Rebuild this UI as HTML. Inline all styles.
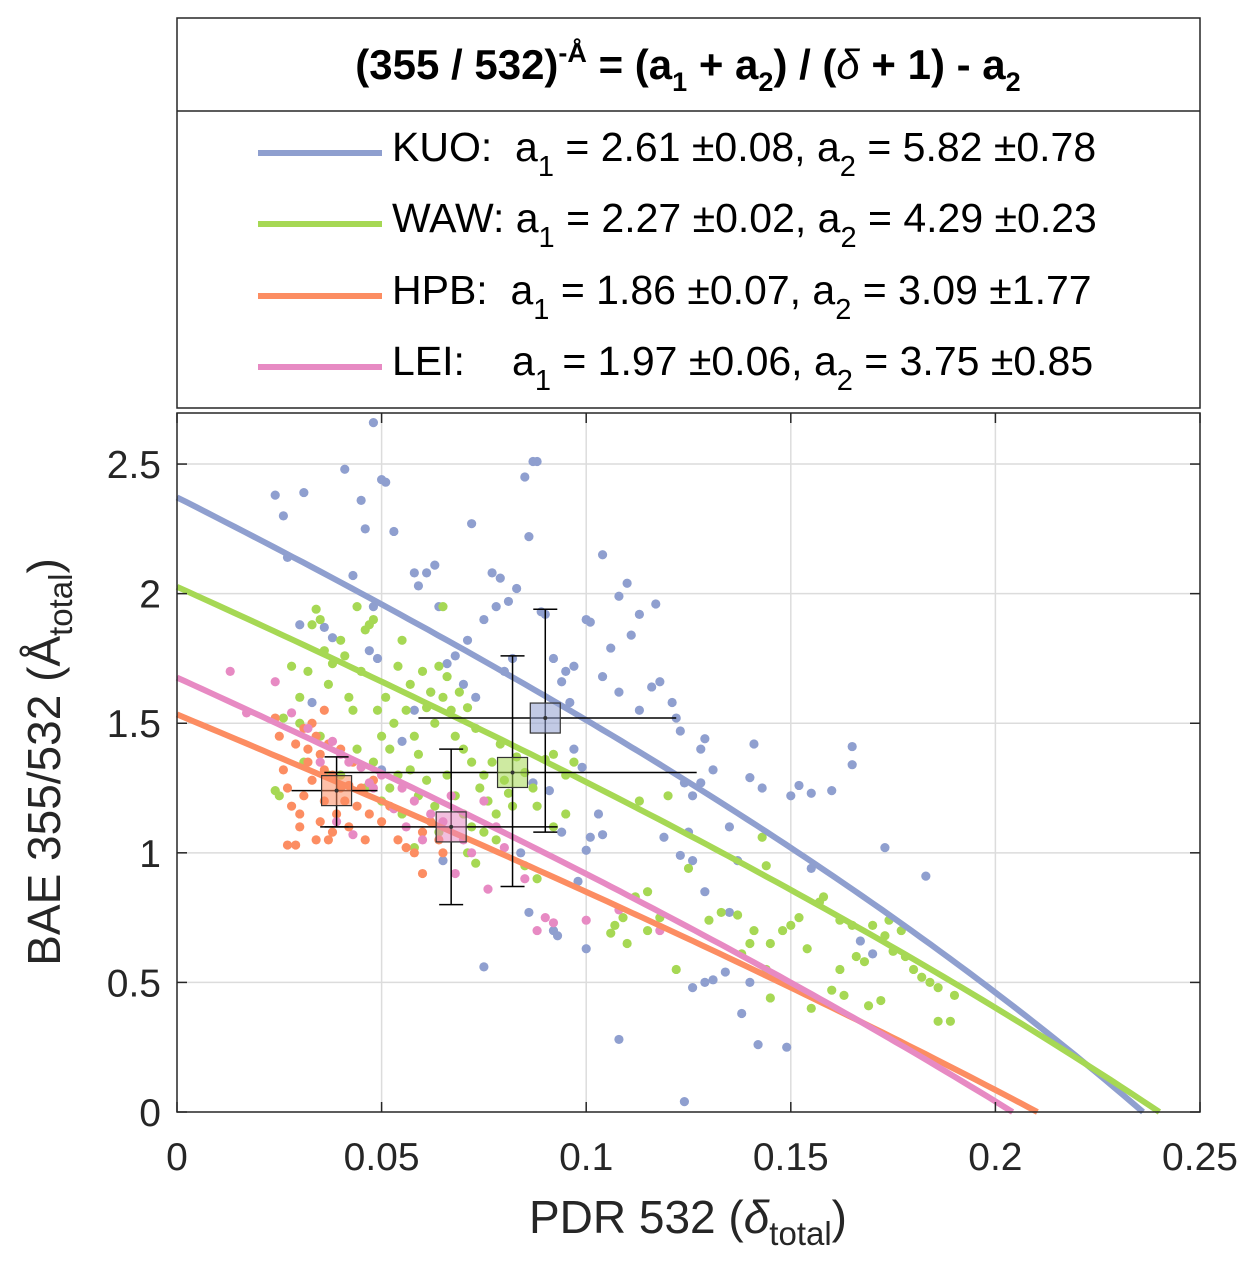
<!DOCTYPE html>
<html><head><meta charset="utf-8"><style>
body{margin:0;background:#fff;}
svg{display:block;font-family:"Liberation Sans",Arial,sans-serif;}
</style></head><body>
<svg id="chart" width="1258" height="1274" viewBox="0 0 1258 1274">
<g id="grid"></g>
<g id="marks"></g>
<rect x="177" y="413" width="1023" height="699" fill="none" stroke="#262626" stroke-width="1.5"/>
<g id="ticks" font-size="39" fill="#262626"></g>
<text x="688" y="1233" font-size="46" text-anchor="middle" fill="#262626">PDR 532 (<tspan font-style="italic">δ</tspan><tspan font-size="33" dy="12">total</tspan><tspan dy="-12">)</tspan></text>
<text transform="translate(60,762) rotate(-90)" font-size="46" text-anchor="middle" fill="#262626">BAE 355/532 (Å<tspan font-size="33" dy="12">total</tspan><tspan dy="-12">)</tspan></text>
<g>
<rect x="177" y="18" width="1023" height="390" fill="#fff" stroke="#262626" stroke-width="1.5"/>
<line x1="177" y1="111" x2="1200" y2="111" stroke="#262626" stroke-width="1.5"/>
<text x="688" y="79" font-size="42" font-weight="bold" text-anchor="middle" fill="#000">(355 / 532)<tspan font-size="27" dy="-17">-Å</tspan><tspan dy="17"> = (a</tspan><tspan font-size="27" dy="12">1</tspan><tspan dy="-12"> + a</tspan><tspan font-size="27" dy="12">2</tspan><tspan dy="-12">) / (</tspan><tspan font-style="italic" font-weight="normal">δ</tspan><tspan> + 1) - a</tspan><tspan font-size="27" dy="12">2</tspan></text>
<g><line x1="258" y1="153" x2="382" y2="153" stroke="#8f9fcf" stroke-width="6"/><text x="392" y="161" font-size="41">KUO:&#160;&#160;a<tspan font-size="29" dy="15">1</tspan><tspan dy="-15"> = 2.61 ±0.08, a</tspan><tspan font-size="29" dy="15">2</tspan><tspan dy="-15"> = 5.82 ±0.78</tspan></text></g>
<g><line x1="258" y1="224" x2="382" y2="224" stroke="#a6d854" stroke-width="6"/><text x="392" y="232" font-size="41">WAW: a<tspan font-size="29" dy="15">1</tspan><tspan dy="-15"> = 2.27 ±0.02, a</tspan><tspan font-size="29" dy="15">2</tspan><tspan dy="-15"> = 4.29 ±0.23</tspan></text></g>
<g><line x1="258" y1="296" x2="382" y2="296" stroke="#fc8d62" stroke-width="6"/><text x="392" y="304" font-size="41">HPB:&#160;&#160;a<tspan font-size="29" dy="15">1</tspan><tspan dy="-15"> = 1.86 ±0.07, a</tspan><tspan font-size="29" dy="15">2</tspan><tspan dy="-15"> = 3.09 ±1.77</tspan></text></g>
<g><line x1="258" y1="367" x2="382" y2="367" stroke="#e78ac3" stroke-width="6"/><text x="392" y="375" font-size="41">LEI:<tspan x="512">a</tspan><tspan font-size="29" dy="15">1</tspan><tspan dy="-15"> = 1.97 ±0.06, a</tspan><tspan font-size="29" dy="15">2</tspan><tspan dy="-15"> = 3.75 ±0.85</tspan></text></g>
</g>
</svg>
<script>
const xTicks=[0,0.05,0.1,0.15,0.2,0.25];
const xTickLabels=["0","0.05","0.1","0.15","0.2","0.25"];
const yTicks=[0,0.5,1,1.5,2,2.5];
const yTickLabels=["0","0.5","1","1.5","2","2.5"];
const seriesNames=["KUO","WAW","HPB","LEI"];
const seriesColors=["#8f9fcf","#a6d854","#fc8d62","#e78ac3"];
const fitA1=[2.61,2.27,1.86,1.97];
const fitA2=[5.82,4.29,3.09,3.75];
const kuoPts=[[0.024,2.38],[0.026,2.30],[0.031,2.39],[0.027,2.14],[0.041,2.48],[0.048,2.66],[0.045,2.36],[0.046,2.25],[0.043,2.07],[0.050,2.44],[0.051,2.43],[0.053,2.24],[0.048,1.95],[0.047,1.78],[0.049,1.75],[0.058,2.08],[0.061,2.08],[0.063,2.11],[0.059,2.03],[0.064,1.95],[0.072,2.27],[0.077,2.08],[0.079,2.06],[0.085,2.45],[0.087,2.51],[0.088,2.51],[0.086,2.22],[0.083,2.02],[0.081,1.97],[0.078,1.95],[0.075,1.90],[0.071,1.82],[0.068,1.76],[0.066,1.73],[0.070,1.65],[0.073,1.60],[0.080,1.70],[0.082,1.75],[0.089,1.93],[0.090,1.92],[0.095,1.70],[0.097,1.72],[0.100,1.90],[0.101,1.89],[0.104,2.15],[0.108,1.99],[0.110,2.04],[0.113,1.92],[0.117,1.96],[0.111,1.84],[0.106,1.79],[0.104,1.68],[0.108,1.62],[0.118,1.66],[0.116,1.64],[0.121,1.58],[0.122,1.52],[0.123,1.47],[0.113,1.55],[0.092,1.75],[0.094,1.66],[0.096,1.58],[0.097,1.40],[0.099,1.33],[0.103,1.15],[0.101,1.06],[0.104,1.07],[0.100,1.01],[0.098,0.89],[0.100,0.63],[0.086,0.77],[0.092,0.70],[0.093,0.68],[0.075,0.56],[0.108,0.28],[0.124,0.04],[0.126,0.48],[0.129,0.50],[0.131,0.51],[0.134,0.54],[0.138,0.38],[0.140,0.50],[0.142,0.26],[0.149,0.25],[0.135,0.77],[0.137,0.97],[0.140,1.29],[0.143,1.25],[0.141,1.42],[0.128,1.40],[0.129,1.44],[0.128,1.27],[0.124,1.27],[0.126,1.22],[0.125,1.08],[0.126,0.97],[0.129,0.85],[0.131,1.32],[0.135,1.10],[0.150,1.22],[0.152,1.26],[0.155,1.23],[0.160,1.24],[0.165,1.34],[0.165,1.41],[0.155,0.94],[0.167,0.66],[0.170,0.61],[0.173,1.02],[0.183,0.91],[0.087,1.27],[0.091,1.24],[0.094,1.08],[0.084,1.00],[0.065,0.97],[0.055,1.43],[0.050,1.32],[0.058,1.55],[0.062,1.62],[0.036,1.87],[0.038,1.83],[0.030,1.88],[0.033,1.58],[0.119,1.06],[0.123,0.99]];
const wawPts=[[0.028,1.72],[0.030,1.60],[0.032,1.70],[0.033,1.88],[0.034,1.94],[0.035,1.90],[0.036,1.78],[0.037,1.65],[0.038,1.73],[0.040,1.82],[0.041,1.76],[0.042,1.60],[0.043,1.55],[0.044,1.95],[0.045,1.70],[0.046,1.86],[0.047,1.88],[0.048,1.90],[0.049,1.55],[0.050,1.45],[0.051,1.60],[0.052,1.40],[0.053,1.50],[0.054,1.72],[0.055,1.82],[0.056,1.55],[0.057,1.65],[0.058,1.45],[0.059,1.38],[0.060,1.70],[0.061,1.56],[0.062,1.62],[0.063,1.50],[0.064,1.72],[0.065,1.60],[0.066,1.68],[0.067,1.55],[0.068,1.45],[0.069,1.62],[0.070,1.40],[0.071,1.56],[0.072,1.35],[0.073,1.48],[0.074,1.25],[0.075,1.30],[0.076,1.20],[0.077,1.35],[0.078,1.15],[0.079,1.42],[0.080,1.28],[0.081,1.23],[0.082,1.18],[0.083,1.37],[0.085,1.31],[0.087,1.25],[0.088,1.18],[0.090,1.36],[0.092,1.38],[0.095,1.30],[0.097,1.35],[0.065,1.95],[0.030,1.50],[0.031,1.35],[0.026,1.52],[0.035,1.45],[0.037,1.30],[0.040,1.30],[0.044,1.40],[0.046,1.25],[0.048,1.35],[0.050,1.20],[0.052,1.25],[0.054,1.30],[0.055,1.15],[0.057,1.32],[0.059,1.22],[0.061,1.28],[0.063,1.18],[0.066,1.30],[0.068,1.22],[0.070,1.15],[0.072,1.10],[0.075,1.08],[0.078,1.05],[0.025,1.22],[0.024,1.24],[0.113,1.20],[0.115,0.85],[0.107,0.72],[0.106,0.69],[0.112,0.83],[0.118,0.75],[0.120,1.22],[0.125,0.94],[0.130,0.74],[0.133,0.77],[0.137,0.76],[0.141,0.70],[0.143,1.06],[0.144,0.95],[0.140,0.65],[0.144,0.55],[0.145,0.44],[0.150,0.72],[0.152,0.75],[0.154,0.63],[0.155,0.40],[0.157,0.81],[0.160,0.47],[0.162,0.55],[0.165,0.72],[0.163,0.45],[0.166,0.60],[0.168,0.58],[0.170,0.72],[0.172,0.43],[0.173,0.68],[0.175,0.62],[0.177,0.70],[0.178,0.60],[0.180,0.55],[0.182,0.52],[0.184,0.50],[0.186,0.35],[0.189,0.35],[0.190,0.45],[0.186,0.48],[0.169,0.41],[0.174,0.74],[0.158,0.83],[0.162,0.74],[0.138,0.61],[0.145,0.65],[0.109,0.75],[0.122,0.55],[0.095,1.15],[0.092,1.10],[0.085,0.95],[0.088,0.90],[0.073,0.96],[0.071,1.00],[0.058,1.02],[0.064,1.08],[0.110,0.65],[0.115,0.70],[0.148,0.70]];
const hpbPts=[[0.024,1.52],[0.025,1.45],[0.026,1.32],[0.027,1.25],[0.028,1.18],[0.027,1.03],[0.029,1.03],[0.030,1.15],[0.030,1.10],[0.031,1.22],[0.032,1.35],[0.033,1.28],[0.033,1.50],[0.034,1.45],[0.035,1.38],[0.035,1.12],[0.036,1.20],[0.036,1.32],[0.037,1.42],[0.038,1.08],[0.038,1.30],[0.039,1.15],[0.040,1.40],[0.040,1.25],[0.041,1.20],[0.042,1.10],[0.043,1.35],[0.044,1.18],[0.045,1.25],[0.046,1.05],[0.047,1.15],[0.048,1.28],[0.050,1.12],[0.052,1.18],[0.054,1.05],[0.056,1.02],[0.058,1.00],[0.060,1.08],[0.062,1.12],[0.065,1.00],[0.034,1.05],[0.037,1.05],[0.031,1.48],[0.029,1.42],[0.032,1.40],[0.060,0.92],[0.064,1.05],[0.042,1.26],[0.036,1.55]];
const leiPts=[[0.013,1.70],[0.017,1.54],[0.024,1.66],[0.028,1.54],[0.032,1.48],[0.035,1.35],[0.038,1.43],[0.040,1.38],[0.042,1.35],[0.045,1.33],[0.050,1.30],[0.055,1.25],[0.058,1.20],[0.062,1.15],[0.065,1.12],[0.067,1.22],[0.068,0.92],[0.070,1.05],[0.072,1.00],[0.076,0.86],[0.080,1.02],[0.085,0.90],[0.088,0.70],[0.090,0.75],[0.092,0.73],[0.100,0.74],[0.108,0.78],[0.118,0.70],[0.047,1.27],[0.053,1.17],[0.060,1.05],[0.075,1.20],[0.078,1.10],[0.043,1.07],[0.048,1.25],[0.039,1.12],[0.056,1.10]];
const meanX=[0.090,0.082,0.039,0.067];
const meanY=[1.52,1.31,1.24,1.10];
const errXLo=[0.059,0.036,0.028,0.035];
const errXHi=[0.122,0.127,0.049,0.093];
const errYLo=[1.08,0.87,1.10,0.80];
const errYHi=[1.94,1.76,1.37,1.40];

const X0=177,X1=1200,Y0=1112,Y1=413,XMAX=0.25,YMAX=2.697;
const sx=v=>X0+v/XMAX*(X1-X0);
const sy=v=>Y0-v/YMAX*(Y0-Y1);
const NS="http://www.w3.org/2000/svg";
function mk(tag,attrs,parent){const e=document.createElementNS(NS,tag);for(const k in attrs)e.setAttribute(k,attrs[k]);parent.appendChild(e);return e;}
const grid=document.getElementById('grid'),marks=document.getElementById('marks'),ticks=document.getElementById('ticks');
xTicks.forEach((t,i)=>{
  const x=sx(t);
  if(i>0&&i<xTicks.length-1){const l=mk('line',{x1:x,x2:x,y1:Y1,y2:Y0,stroke:'#dcdcdc','stroke-width':1.5},grid);
  
  }
  mk('line',{x1:x,x2:x,y1:Y0,y2:Y0-10,stroke:'#262626','stroke-width':1.5},ticks);
  mk('line',{x1:x,x2:x,y1:Y1,y2:Y1+10,stroke:'#262626','stroke-width':1.5},ticks);
  const tx=mk('text',{x:x,y:Y0+58,'text-anchor':'middle'},ticks);tx.textContent=xTickLabels[i];
  
  
});
yTicks.forEach((t,i)=>{
  const y=sy(t);
  if(i>0){const l=mk('line',{x1:X0,x2:X1,y1:y,y2:y,stroke:'#dcdcdc','stroke-width':1.5},grid);
  
  }
  mk('line',{x1:X0,x2:X0+10,y1:y,y2:y,stroke:'#262626','stroke-width':1.5},ticks);
  mk('line',{x1:X1,x2:X1-10,y1:y,y2:y,stroke:'#262626','stroke-width':1.5},ticks);
  const tx=mk('text',{x:X0-16,y:y+14,'text-anchor':'end'},ticks);tx.textContent=yTickLabels[i];
  
  
});
const allPts=[kuoPts,wawPts,hpbPts,leiPts];
allPts.forEach((pts,s)=>{
  pts.forEach(p=>{const c=mk('circle',{cx:sx(p[0]),cy:sy(p[1]),r:4.6,fill:seriesColors[s]},marks);
  
  });
});
const LN=Math.log(355/532);
seriesNames.forEach((n,s)=>{
  const a1=fitA1[s],a2=fitA2[s];const dz=(a1+a2)/(a2+1)-1;let d='';
  for(let k=0;k<=100;k++){const del=dz*k/100;const v=(a1+a2)/(del+1)-a2;const A=Math.log(v)/(-LN);d+=(k?'L':'M')+sx(del).toFixed(1)+','+sy(Math.max(A,0)).toFixed(1);}
  const p=mk('path',{d:d,fill:'none',stroke:seriesColors[s],'stroke-width':6},marks);
  
  
});
seriesNames.forEach((n,s)=>{
  const g=mk('g',{},marks);
  
  
  const cx=sx(meanX[s]),cy=sy(meanY[s]);
  const st={stroke:'#000','stroke-width':1.5};
  mk('line',Object.assign({x1:sx(errXLo[s]),x2:sx(errXHi[s]),y1:cy,y2:cy},st),g);
  mk('line',Object.assign({x1:cx,x2:cx,y1:sy(errYLo[s]),y2:sy(errYHi[s])},st),g);
  mk('line',Object.assign({x1:cx-12,x2:cx+12,y1:sy(errYLo[s]),y2:sy(errYLo[s])},st),g);
  mk('line',Object.assign({x1:cx-12,x2:cx+12,y1:sy(errYHi[s]),y2:sy(errYHi[s])},st),g);
  mk('rect',{x:cx-15,y:cy-15,width:30,height:30,fill:seriesColors[s],'fill-opacity':0.55,stroke:'#333','stroke-width':1.2},g);
  mk('circle',{cx:cx,cy:cy,r:2,fill:'#333'},g);
});
</script>
</body></html>
